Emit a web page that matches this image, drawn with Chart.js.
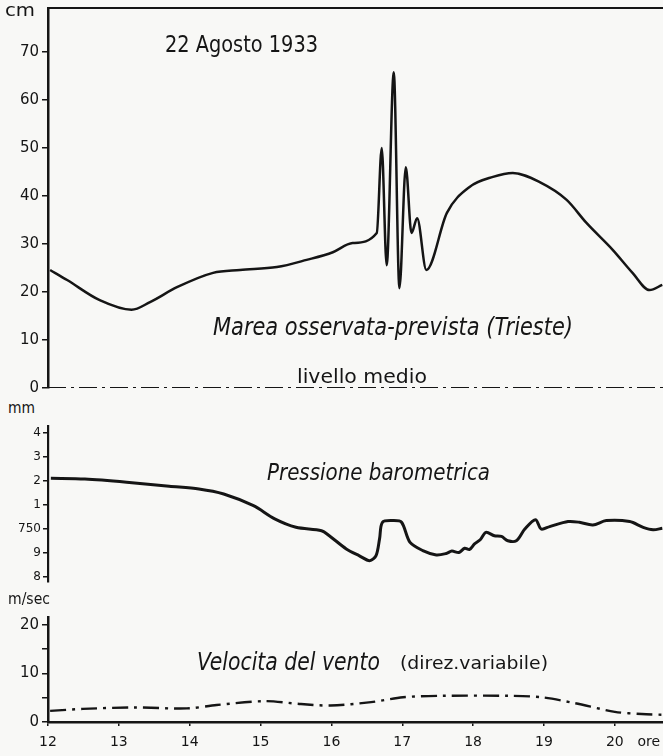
<!DOCTYPE html>
<html>
<head>
<meta charset="utf-8">
<script src="https://cdn.jsdelivr.net/npm/chart.js@4.4.1/dist/chart.umd.min.js"></script>
<style>
    body { margin: 0; background: #f8f8f6; }
    #wrap { position: relative; width: 663px; height: 756px; overflow: hidden; color: #151515;
            font-family: 'DejaVu Sans', sans-serif; }
    canvas { position: absolute; left: 0; }
    .lbl { position: absolute; white-space: nowrap; line-height: 1; transform-origin: 0 0; }
    .it { font-style: italic; }
</style>
</head>
<body>
<div id="wrap">
    <canvas id="tide" width="663" height="392" style="top:0"></canvas>
    <canvas id="press" width="663" height="168" style="top:420px"></canvas>
    <canvas id="wind" width="663" height="156" style="top:600px"></canvas>

    <div class="lbl" data-w="30" style="left:5px;top:1px;font-size:18px">cm</div>
    <div class="lbl" data-w="153" style="left:165px;top:33px;font-size:23px">22 Agosto 1933</div>
    <div class="lbl it" data-w="360" style="left:213px;top:315px;font-size:24px">Marea osservata-prevista (Trieste)</div>
    <div class="lbl" data-w="130" style="left:297px;top:366px;font-size:20px">livello medio</div>
    <div class="lbl" data-w="27" style="left:8px;top:400px;font-size:16px">mm</div>
    <div class="lbl it" data-w="223" style="left:267px;top:461px;font-size:23px">Pressione barometrica</div>
    <div class="lbl" data-w="42" style="left:8px;top:592px;font-size:15px">m/sec</div>
    <div class="lbl it" data-w="183" style="left:197px;top:650px;font-size:24px">Velocita del vento</div>
    <div class="lbl" data-w="148" style="left:400px;top:655px;font-size:17px">(direz.variabile)</div>
</div>

<script>
// hours of the day (x) and values
const tideHours = [12.03, 12.27, 12.73, 13.18, 13.44, 13.82, 14.33, 14.71, 15.23, 15.65, 16.02, 16.30, 16.64,
    16.71, 16.78, 16.88, 16.96, 17.05, 17.13, 17.21, 17.34, 17.63, 17.95, 18.28, 18.56, 18.94, 19.32, 19.60,
    19.97, 20.25, 20.49, 20.67];
const tideCm = [24.6, 22.5, 18.3, 16.3, 17.9, 21.0, 24.0, 24.6, 25.2, 26.7, 28.3, 30.2, 32.3,
    50.0, 25.6, 65.8, 20.8, 46.0, 32.3, 35.4, 24.6, 36.5, 41.9, 44.0, 44.8, 42.9, 39.2, 34.4,
    28.8, 24.0, 20.4, 21.5];
const livelloMedio = 0;

const pressHours = [12.04, 12.52, 13.11, 13.71, 14.13, 14.48, 14.90, 15.20, 15.50, 15.86, 15.97, 16.21, 16.39,
    16.54, 16.63, 16.68, 16.72, 16.87, 16.99, 17.11, 17.29, 17.48, 17.62, 17.70, 17.80, 17.88, 17.95, 18.02,
    18.10, 18.18, 18.30, 18.40, 18.49, 18.61, 18.73, 18.88, 18.96, 19.08, 19.34, 19.50, 19.69, 19.88, 20.21,
    20.40, 20.54, 20.67];
const pressMm = [752.11, 752.08, 751.95, 751.78, 751.67, 751.46, 750.97, 750.42, 750.07, 749.93, 749.72, 749.17, 748.89,
    748.68, 748.89, 749.60, 750.28, 750.35, 750.28, 749.44, 749.10, 748.92, 748.98, 749.08, 749.02, 749.20, 749.15, 749.38,
    749.55, 749.86, 749.72, 749.69, 749.51, 749.51, 750.00, 750.39, 750.00, 750.10, 750.31, 750.28, 750.17, 750.35, 750.31,
    750.07, 749.97, 750.03];

const windHours = [12.03, 12.49, 13.20, 13.96, 14.38, 15.05, 15.57, 15.99, 16.56, 17.01, 17.56, 18.50, 18.97,
    19.43, 20.00, 20.38, 20.67];
const windMs = [2.3, 2.7, 3.0, 2.8, 3.5, 4.3, 3.7, 3.4, 4.1, 5.1, 5.4, 5.4, 5.1, 3.9, 2.1, 1.65, 1.5];

const tideTicks = [0, 10, 20, 30, 40, 50, 60, 70];
const pressTicks = [748, 749, 750, 751, 752, 753, 754];
const pressTickLabels = ['8', '9', '750', '1', '2', '3', '4'];
const windTicks = [0, 5, 10, 15, 20];
const windTickLabels = ['0', '', '10', '', '20'];
const hourTicks = [12, 13, 14, 15, 16, 17, 18, 19, 20];
const oreAt = 20.48;

const ink = '#151515';
const fontFamily = "'DejaVu Sans', sans-serif";
const X_MIN = 12, X_MAX = 20.68;

// squeeze the hand lettering to its width in the drawing
document.querySelectorAll('.lbl').forEach(el => {
    const w = el.getBoundingClientRect().width;
    el.style.transform = 'scaleX(' + (el.dataset.w / w) + ')';
});

function points(xs, ys) {
    return xs.map((x, i) => ({ x: x, y: ys[i] }));
}

function noPad(width) {
    return function(s) {
        s.width = width;
        s.paddingTop = 0;
        s.paddingBottom = 0;
    };
}

function hiddenX(extra) {
    return Object.assign({
        type: 'linear', min: X_MIN, max: X_MAX,
        ticks: { display: false },
        grid: { drawOnChartArea: false, drawTicks: false },
        afterFit: s => { s.height = 0; s.paddingLeft = 0; s.paddingRight = 0; }
    }, extra);
}

const base = {
    responsive: false,
    animation: false,
    plugins: { legend: { display: false }, tooltip: { enabled: false } },
    elements: { point: { radius: 0 } }
};

// tide
new Chart(document.getElementById('tide'), {
    type: 'line',
    data: { datasets: [
        { data: points(tideHours, tideCm), borderColor: ink, borderWidth: 2.5,
            cubicInterpolationMode: 'monotone', fill: false },
        { data: points([X_MIN, X_MAX], [livelloMedio, livelloMedio]), borderColor: ink, borderWidth: 2,
            borderDash: [18, 5, 3, 5], fill: false }
    ] },
    options: Object.assign({}, base, {
        layout: { padding: { top: 8, bottom: 4, left: 0, right: 0 } },
        scales: {
            x: hiddenX({ border: { display: false } }),
            xTop: hiddenX({ position: 'top', border: { display: true, color: ink, width: 2 } }),
            y: {
                min: 0, max: 79.2,
                afterBuildTicks: s => { s.ticks = tideTicks.map(v => ({ value: v })); },
                afterFit: noPad(48),
                ticks: { color: ink, font: { family: fontFamily, size: 15 }, padding: 3 },
                grid: { drawOnChartArea: false, color: ink, tickLength: 6, lineWidth: 1.5 },
                border: { color: ink, width: 2.5 }
            }
        }
    })
});

// barometric pressure
new Chart(document.getElementById('press'), {
    type: 'line',
    data: { datasets: [{ data: points(pressHours, pressMm), borderColor: ink, borderWidth: 3,
        tension: 0.3, fill: false }] },
    options: Object.assign({}, base, {
        layout: { padding: { top: 5.8, bottom: 6.2, left: 0, right: 0 } },
        scales: {
            x: hiddenX({ border: { display: false } }),
            y: {
                min: 747.8, max: 754.3,
                afterBuildTicks: s => { s.ticks = pressTicks.map(v => ({ value: v })); },
                afterFit: noPad(48),
                ticks: { color: ink, font: { family: fontFamily, size: 12 }, padding: 2,
                    callback: (v) => pressTickLabels[pressTicks.indexOf(v)] },
                grid: { drawOnChartArea: false, color: ink, tickLength: 5, lineWidth: 1.5 },
                border: { color: ink, width: 2.2 }
            }
        }
    })
});

// wind speed
new Chart(document.getElementById('wind'), {
    type: 'line',
    data: { datasets: [{ data: points(windHours, windMs), borderColor: ink, borderWidth: 2.4,
        borderDash: [16, 6, 3, 6], tension: 0.3, fill: false }] },
    options: Object.assign({}, base, {
        layout: { padding: { top: 17.7, bottom: 0, left: 0, right: 0 } },
        scales: {
            x: {
                type: 'linear', min: X_MIN, max: X_MAX,
                afterBuildTicks: s => { s.ticks = hourTicks.concat([oreAt]).map(v => ({ value: v })); },
                afterFit: s => { s.height = 34; s.paddingLeft = 0; s.paddingRight = 0; },
                ticks: { color: ink, font: { family: fontFamily, size: 14 }, padding: 8,
                    maxRotation: 0, autoSkip: false,
                    callback: (v) => v === oreAt ? 'ore' : String(v) },
                grid: { drawOnChartArea: false, tickLength: 4, lineWidth: 1.5,
                    color: c => (c.tick && c.tick.value === oreAt) ? 'rgba(0,0,0,0)' : ink },
                border: { color: ink, width: 2.5 }
            },
            y: {
                min: 0, max: 21.5,
                afterBuildTicks: s => { s.ticks = windTicks.map(v => ({ value: v })); },
                afterFit: noPad(48),
                ticks: { color: ink, font: { family: fontFamily, size: 15 }, padding: 3,
                    callback: (v) => windTickLabels[windTicks.indexOf(v)] },
                grid: { drawOnChartArea: false, color: ink, tickLength: 6, lineWidth: 1.5 },
                border: { color: ink, width: 2.5 }
            }
        }
    })
});
</script>
</body>
</html>
